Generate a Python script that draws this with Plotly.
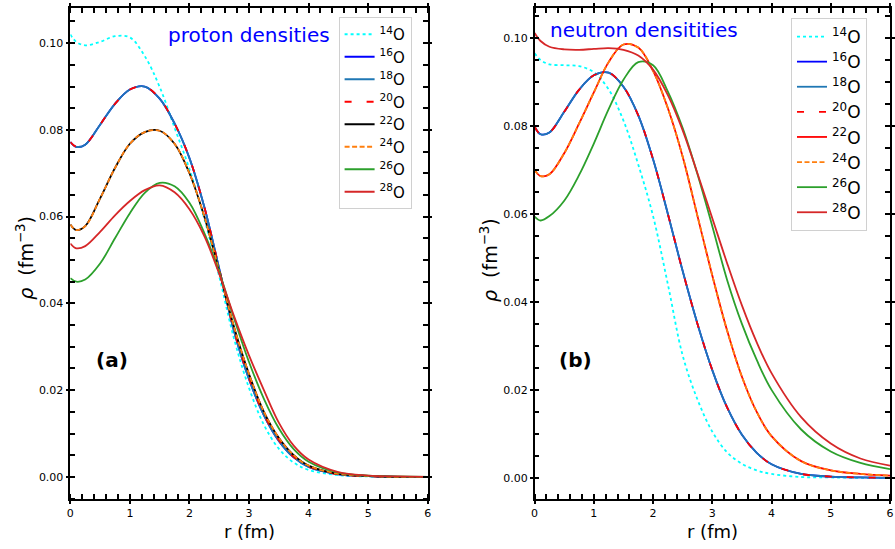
import plotly.graph_objects as go

R = [0, 0.1, 0.25, 0.5, 0.75, 1.0, 1.25, 1.5, 1.75, 2.0, 2.25, 2.5, 2.75, 3.0,
     3.25, 3.5, 3.75, 4.0, 4.5, 5.0, 5.5, 6.0]

labels = ["<sup>14</sup>O", "<sup>16</sup>O", "<sup>18</sup>O", "<sup>20</sup>O",
          "<sup>22</sup>O", "<sup>24</sup>O", "<sup>26</sup>O", "<sup>28</sup>O"]

# proton densities (panel a)
p14 = [0.1020, 0.1003, 0.0995, 0.1003, 0.1016, 0.1013, 0.0970, 0.0899, 0.0805, 0.0710, 0.0595,
       0.0462, 0.0318, 0.0205, 0.0120, 0.0065, 0.0033, 0.0016, 0.0004, 0.0001, 0.0, 0.0]
p16 = [0.0772, 0.0761, 0.0766, 0.0812, 0.0860, 0.0893, 0.0900, 0.0872, 0.0815, 0.0735, 0.0622,
       0.0480, 0.0335, 0.0225, 0.0142, 0.0083, 0.0045, 0.0023, 0.0006, 0.0002, 0.0, 0.0]
p18 = [0.0772, 0.0761, 0.0766, 0.0812, 0.0860, 0.0893, 0.0900, 0.0872, 0.0815, 0.0735, 0.0622,
       0.0480, 0.0335, 0.0225, 0.0142, 0.0083, 0.0045, 0.0023, 0.0006, 0.0002, 0.0, 0.0]
p20 = [0.0772, 0.0761, 0.0766, 0.0812, 0.0860, 0.0893, 0.0900, 0.0872, 0.0815, 0.0735, 0.0622,
       0.0480, 0.0337, 0.0228, 0.0144, 0.0085, 0.0046, 0.0024, 0.0006, 0.0002, 0.0, 0.0]
p22 = [0.0582, 0.0569, 0.0578, 0.0642, 0.0712, 0.0768, 0.0795, 0.0798, 0.0768, 0.0700, 0.0600,
       0.0474, 0.0345, 0.0237, 0.0150, 0.0090, 0.0050, 0.0026, 0.0007, 0.0002, 0.0, 0.0]
p24 = [0.0582, 0.0569, 0.0578, 0.0642, 0.0712, 0.0768, 0.0795, 0.0798, 0.0768, 0.0700, 0.0600,
       0.0474, 0.0345, 0.0237, 0.0150, 0.0090, 0.0050, 0.0026, 0.0007, 0.0002, 0.0, 0.0]
p26 = [0.0458, 0.0450, 0.0455, 0.0492, 0.0550, 0.0608, 0.0655, 0.0678, 0.0670, 0.0632, 0.0562,
       0.0472, 0.0365, 0.0265, 0.0180, 0.0112, 0.0064, 0.0035, 0.0010, 0.0003, 0.0001, 0.0]
p28 = [0.0538, 0.0527, 0.0532, 0.0565, 0.0603, 0.0636, 0.0661, 0.0672, 0.0656, 0.0617, 0.0555,
       0.0468, 0.0370, 0.0280, 0.0200, 0.0125, 0.0072, 0.0040, 0.0011, 0.0003, 0.0001, 0.0]

# neutron densities (panel b)
n14 = [0.0965, 0.0950, 0.0940, 0.0938, 0.0936, 0.0922, 0.0883, 0.0812, 0.0712, 0.0595, 0.0440,
       0.0278, 0.0178, 0.0105, 0.0058, 0.0032, 0.0017, 0.0009, 0.0002, 0.0001, 0.0, 0.0]
n16 = [0.0798, 0.0781, 0.0785, 0.0832, 0.0882, 0.0915, 0.0921, 0.0889, 0.0824, 0.0724, 0.0600,
       0.0470, 0.0350, 0.0245, 0.0160, 0.0098, 0.0057, 0.0031, 0.0009, 0.0003, 0.0001, 0.0]
n18 = [0.0798, 0.0781, 0.0785, 0.0832, 0.0882, 0.0915, 0.0921, 0.0889, 0.0824, 0.0724, 0.0600,
       0.0470, 0.0350, 0.0245, 0.0160, 0.0098, 0.0057, 0.0031, 0.0009, 0.0003, 0.0001, 0.0]
n20 = [0.0798, 0.0781, 0.0785, 0.0832, 0.0882, 0.0915, 0.0921, 0.0889, 0.0824, 0.0724, 0.0600,
       0.0470, 0.0350, 0.0245, 0.0160, 0.0098, 0.0057, 0.0031, 0.0009, 0.0003, 0.0001, 0.0]
n22 = [0.0700, 0.0686, 0.0690, 0.0738, 0.0805, 0.0876, 0.0945, 0.0985, 0.0978, 0.0925, 0.0840,
       0.0730, 0.0595, 0.0460, 0.0335, 0.0230, 0.0150, 0.0095, 0.0038, 0.0017, 0.0009, 0.0005]
n24 = [0.0700, 0.0686, 0.0690, 0.0738, 0.0805, 0.0876, 0.0945, 0.0985, 0.0978, 0.0925, 0.0840,
       0.0730, 0.0595, 0.0460, 0.0335, 0.0230, 0.0150, 0.0095, 0.0038, 0.0017, 0.0009, 0.0005]
n26 = [0.0594, 0.0585, 0.0595, 0.0630, 0.0688, 0.0760, 0.0838, 0.0905, 0.0945, 0.0938, 0.0878,
       0.0795, 0.0690, 0.0572, 0.0450, 0.0350, 0.0268, 0.0200, 0.0110, 0.0060, 0.0034, 0.0020]
n28 = [0.1011, 0.0993, 0.0980, 0.0974, 0.0973, 0.0975, 0.0977, 0.0973, 0.0960, 0.0928, 0.0870,
       0.0790, 0.0692, 0.0590, 0.0488, 0.0392, 0.0308, 0.0238, 0.0138, 0.0078, 0.0044, 0.0028]

proton = [p14, p16, p18, p20, p22, p24, p26, p28]
neutron = [n14, n16, n18, n20, n22, n24, n26, n28]

styles_a = [("#00ffff", "dot"), ("#0000ff", "solid"), ("#1f77b4", "solid"), ("#ff0000", "7px,15px"),
            ("#000000", "solid"), ("#ff7f0e", "5px,2.5px"), ("#2ca02c", "solid"), ("#d62728", "solid")]
styles_b = [("#00ffff", "dot"), ("#0000ff", "solid"), ("#1f77b4", "solid"), ("#ff0000", "7px,15px"),
            ("#ff0000", "solid"), ("#ff7f0e", "5px,2.5px"), ("#2ca02c", "solid"), ("#d62728", "solid")]

fig = go.Figure()
for i in range(8):
    c, d = styles_a[i]
    fig.add_trace(go.Scatter(x=R, y=proton[i], mode="lines", name=labels[i],
                             line=dict(color=c, dash=d, width=1.8, shape="spline"),
                             xaxis="x", yaxis="y", legend="legend"))
for i in range(8):
    c, d = styles_b[i]
    fig.add_trace(go.Scatter(x=R, y=neutron[i], mode="lines", name=labels[i],
                             line=dict(color=c, dash=d, width=1.8, shape="spline"),
                             xaxis="x2", yaxis="y2", legend="legend2"))

W, H = 895, 549
top, bot = 8, 499
def px(x):
    return x / W
def py(y):
    return (bot - y) / (bot - top)

tickfont = dict(family="DejaVu Sans", size=11, color="black")
def xax(domain, anchor):
    return dict(domain=domain, anchor=anchor, range=[0, 6], dtick=1, tick0=0,
                ticks="outside", ticklen=3, tickwidth=1.5, tickcolor="black",
                minor=dict(ticks="inside", dtick=0.2, ticklen=5, tickwidth=1.5, tickcolor="black"),
                showline=True, linecolor="black", linewidth=1.5, mirror="ticks",
                showgrid=False, zeroline=False, tickfont=tickfont, ticklabeloverflow="allow")
def yax(rng, anchor):
    return dict(domain=[0, 1], anchor=anchor, range=rng, dtick=0.02, tick0=0, tickformat=".2f",
                ticks="outside", ticklen=3, tickwidth=1.5, tickcolor="black",
                minor=dict(ticks="inside", dtick=0.005, ticklen=5, tickwidth=1.5, tickcolor="black"),
                showline=True, linecolor="black", linewidth=1.5, mirror="ticks",
                showgrid=False, zeroline=False, tickfont=tickfont)

def leg(size):
    return dict(font=dict(family="DejaVu Sans", size=size, color="black"), bgcolor="white",
                bordercolor="#d0d0d0", borderwidth=1, xanchor="left", yanchor="top",
                tracegroupgap=0, itemwidth=30)

fig.update_layout(
    width=W, height=H, margin=dict(l=0, r=0, t=top, b=H - bot),
    plot_bgcolor="white", paper_bgcolor="white",
    font=dict(family="DejaVu Sans", color="black"),
    xaxis=xax([px(67), px(428)], "y"),
    yaxis=yax([-0.0051, 0.1081], "x"),
    xaxis2=xax([px(536), 1.0], "y2"),
    yaxis2=yax([-0.0048, 0.1068], "x2"),
    legend=dict(leg(15), x=px(338), y=py(17)),
    legend2=dict(leg(17), x=px(795), y=py(18)),
    showlegend=True,
)

ann = [
    dict(text="proton densities", x=px(247), y=py(35), font=dict(size=20, color="#0000ff")),
    dict(text="neutron densitities", x=px(647), y=py(30), font=dict(size=20, color="#0000ff")),
    dict(text="<b>(a)</b>", x=px(109), y=py(360), font=dict(size=20, color="black")),
    dict(text="<b>(b)</b>", x=px(577), y=py(360), font=dict(size=20, color="black")),
    dict(text="r (fm)", x=px(248), y=py(531), font=dict(size=18, color="black")),
    dict(text="r (fm)", x=px(716), y=py(531), font=dict(size=18, color="black")),
    dict(text="<i>ρ</i>  (fm<sup>−3</sup>)", x=px(21), y=py(258), textangle=-90,
         font=dict(size=19, color="black")),
    dict(text="<i>ρ</i>  (fm<sup>−3</sup>)", x=px(490), y=py(260), textangle=-90,
         font=dict(size=19, color="black")),
]
for a in ann:
    a.update(xref="paper", yref="paper", showarrow=False, xanchor="center", yanchor="middle")
    a["font"]["family"] = "DejaVu Sans"
    fig.add_annotation(**a)

fig.write_html("out.html")
